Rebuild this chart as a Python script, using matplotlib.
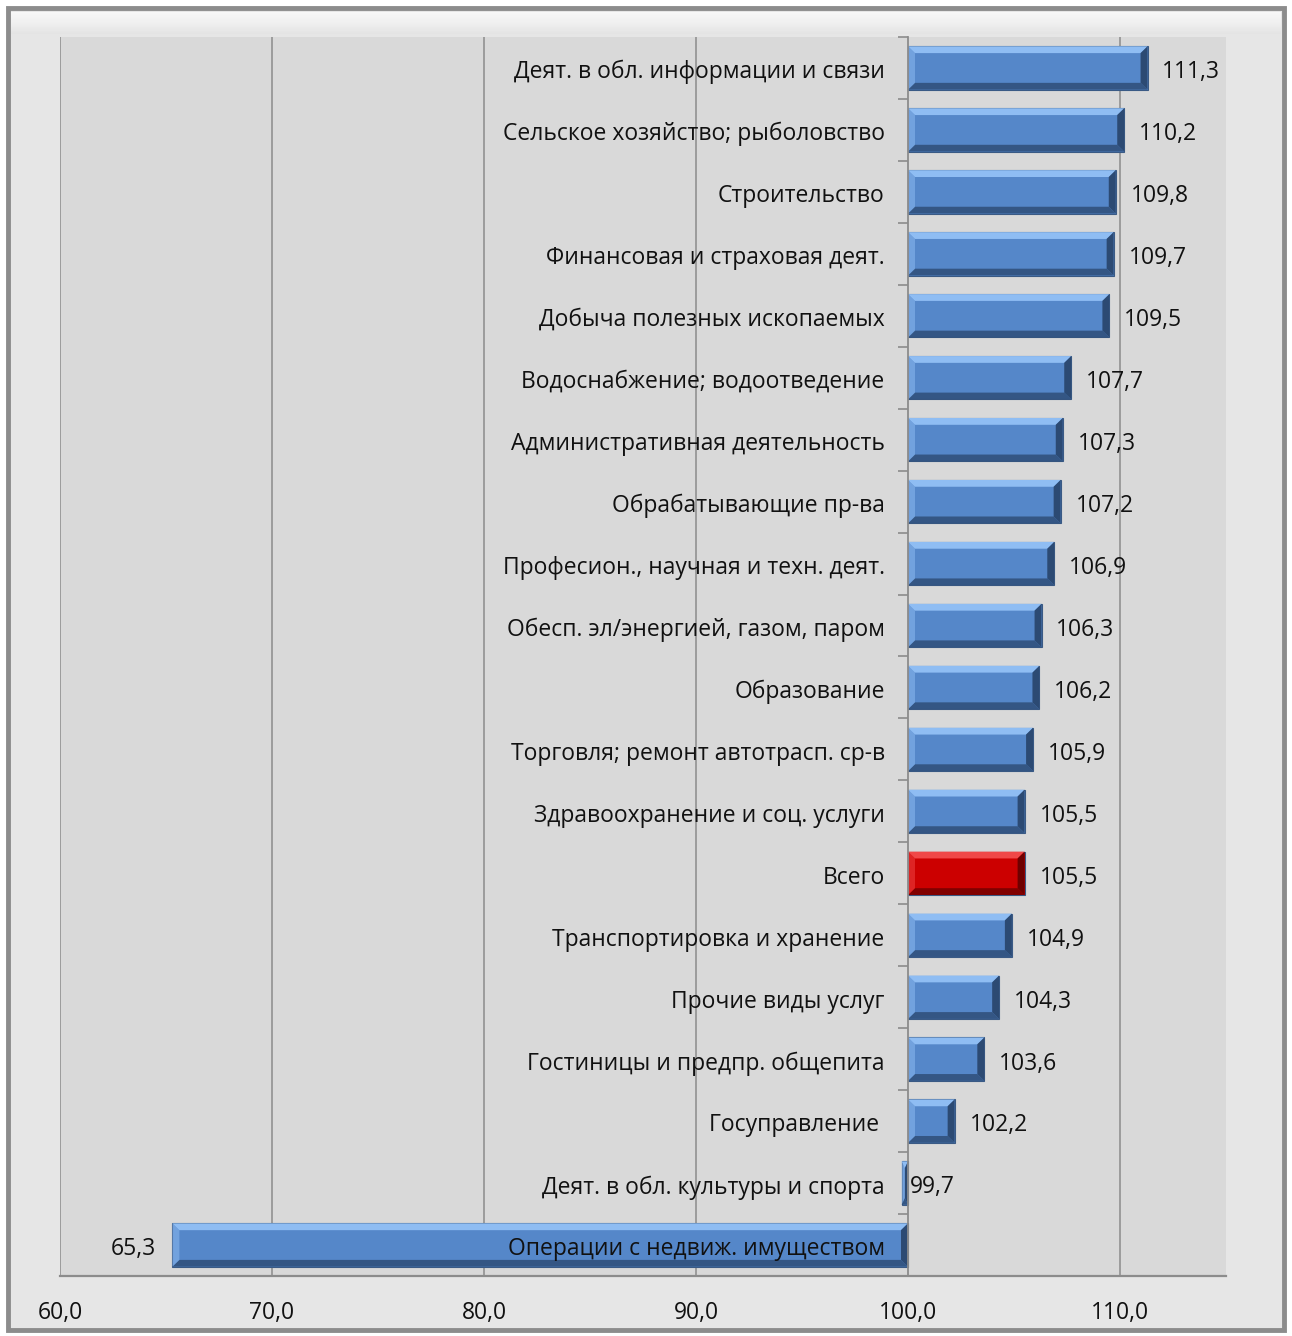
import numpy as np
import matplotlib.pyplot as plt
from matplotlib.patches import Polygon, Rectangle

plt.rcParams['font.family'] = ['Open Sans', 'DejaVu Sans']

categories = [
    'Деят. в обл. информации и связи',
    'Сельское хозяйство; рыболовство',
    'Строительство',
    'Финансовая и страховая деят.',
    'Добыча полезных ископаемых',
    'Водоснабжение; водоотведение',
    'Административная деятельность',
    'Обрабатывающие пр-ва',
    'Професион., научная и техн. деят.',
    'Обесп. эл/энергией, газом, паром',
    'Образование',
    'Торговля; ремонт автотрасп. ср-в',
    'Здравоохранение и соц. услуги',
    'Всего',
    'Транспортировка и хранение',
    'Прочие виды услуг',
    'Гостиницы и предпр. общепита',
    'Госуправление ',
    'Деят. в обл. культуры и спорта',
    'Операции с недвиж. имуществом',
]
values = [111.3, 110.2, 109.8, 109.7, 109.5, 107.7, 107.3, 107.2, 106.9, 106.3,
          106.2, 105.9, 105.5, 105.5, 104.9, 104.3, 103.6, 102.2, 99.7, 65.3]
highlight = 'Всего'
base = 100.0
xticks = [60, 70, 80, 90, 100, 110]
fs = 16.5
dy = 0.07  # text sits a touch below bar centre

fig = plt.figure(figsize=(12.92, 13.36), dpi=100)
fig.patch.set_facecolor('white')
# outer frame of the chart with a soft bevel
fig.patches.append(Rectangle((8 / 1292, 6 / 1336), 1276 / 1292, 1322 / 1336,
                             transform=fig.transFigure, facecolor='#e6e6e6',
                             edgecolor='#8c8c8c', linewidth=3.5, zorder=-10))
grad = np.linspace(1, 0, 20).reshape(-1, 1)
gax = fig.add_axes([11 / 1292, 1302 / 1336, 1270 / 1292, 22 / 1336], zorder=-5)
gax.imshow(grad, aspect='auto', cmap='Greys_r', vmin=-6, vmax=1.4, extent=[0, 1, 0, 1])
gax.axis('off')

ax = fig.add_axes([60 / 1292, 60 / 1336, 1166 / 1292, 1239 / 1336])
ax.set_facecolor('#d9d9d9')

y = np.arange(len(categories))
h = 0.70
colors = ['#cc0000' if c == highlight else '#5587c9' for c in categories]
light = {'#5587c9': '#8fbdf3', '#cc0000': '#f04848'}
dark = {'#5587c9': '#2c4a73', '#cc0000': '#6e0000'}

bars = ax.barh(y, np.array(values) - base, left=base, height=h, color=colors,
               edgecolor='#3a5a85', linewidth=0.8, zorder=3)

# bevel edges
bx = 0.33   # horizontal bevel in data units
by = 0.11   # vertical bevel in data units
for yi, v, c in zip(y, values, colors):
    x0, x1 = min(base, v), max(base, v)
    t, b = yi - h / 2, yi + h / 2
    w = min(bx, (x1 - x0) / 2)
    top = Polygon([(x0, t), (x1, t), (x1 - w, t + by), (x0 + w, t + by)],
                  facecolor=light[c], edgecolor='none', zorder=4)
    bot = Polygon([(x0, b), (x1, b), (x1 - w, b - by), (x0 + w, b - by)],
                  facecolor=dark[c], edgecolor='none', zorder=4, alpha=0.8)
    rgt = Polygon([(x1, t), (x1, b), (x1 - w, b - by), (x1 - w, t + by)],
                  facecolor=dark[c], edgecolor='none', zorder=4)
    lft = Polygon([(x0, t), (x0, b), (x0 + w, b - by), (x0 + w, t + by)],
                  facecolor=light[c], edgecolor='none', zorder=4, alpha=0.5)
    for p in (top, bot, rgt, lft):
        ax.add_patch(p)

# category labels left of the base line
for yi, c in zip(y, categories):
    ax.text(base - 1.1, yi + dy, c, ha='right', va='center', fontsize=fs,
            color='#111111', zorder=6)

# value labels
for yi, v in zip(y, values):
    s = f'{v:.1f}'.replace('.', ',')
    if v >= base:
        ax.text(v + 0.7, yi + dy, s, ha='left', va='center', fontsize=fs,
                color='#111111', zorder=6)
    elif base - v < 1:
        ax.text(base + 0.1, yi + dy, s, ha='left', va='center', fontsize=fs,
                color='#111111', zorder=6)
    else:
        ax.text(v - 0.75, yi + dy, s, ha='right', va='center', fontsize=fs,
                color='#111111', zorder=6)

ax.set_xlim(60, 115)
ax.set_ylim(len(categories) - 0.5, -0.5)

ax.set_xticks(xticks)
ax.set_xticklabels([f'{t:.1f}'.replace('.', ',') for t in xticks], fontsize=fs,
                   color='#111111')
ax.tick_params(axis='x', length=0, pad=18)
for t in xticks:
    if t != base:
        ax.axvline(t, color='#8c8c8c', linewidth=1.1, zorder=1)

# category axis sits on the base line
ax.spines['left'].set_position(('data', base))
ax.spines['left'].set_color('#8c8c8c')
ax.spines['left'].set_linewidth(1.3)
ax.spines['left'].set_zorder(5)
ax.set_yticks(np.arange(len(categories) + 1) - 0.5)
ax.set_yticklabels([])
ax.tick_params(axis='y', length=7, color='#8c8c8c', width=1.2)
ax.spines['bottom'].set_color('#8c8c8c')
ax.spines['bottom'].set_linewidth(1.6)
ax.spines['top'].set_visible(False)
ax.spines['right'].set_visible(False)

fig.savefig('out.png', dpi=100, facecolor=fig.get_facecolor())
